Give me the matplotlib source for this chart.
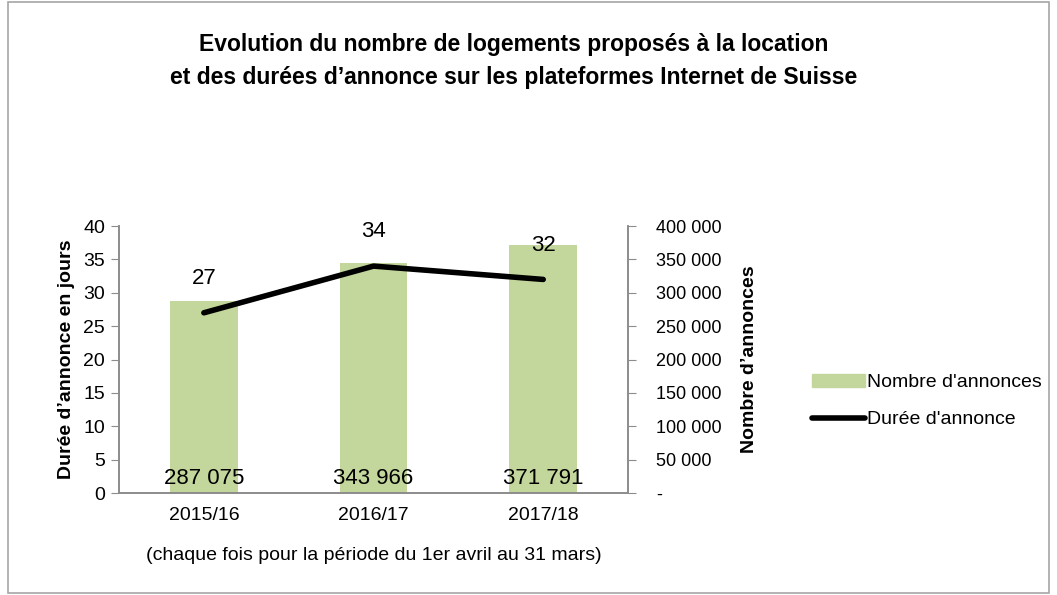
import matplotlib.pyplot as plt
from matplotlib.patches import Rectangle
from matplotlib.lines import Line2D
from matplotlib.ticker import FuncFormatter

plt.rcParams['font.family'] = ['Liberation Sans', 'DejaVu Sans']

# Données
periodes = ['2015/16', '2016/17', '2017/18']
nb_annonces = [287075, 343966, 371791]
duree_jours = [27, 34, 32]

bar_color = '#C3D69B'
axis_color = '#8C8C8C'

fig = plt.figure(figsize=(10.57, 5.95), dpi=100)
ax = fig.add_axes([0.1126, 0.1714, 0.4816, 0.4487])
ax2 = ax.twinx()

x = list(range(len(periodes)))

# barres (axe de droite)
ax.bar(x, nb_annonces, width=0.4, color=bar_color, zorder=2)
ax.set_ylim(0, 400000)
ax.set_xlim(-0.5, len(periodes) - 0.5)
ax.yaxis.tick_right()
ax.yaxis.set_label_position('right')
ax.set_yticks(range(0, 400001, 50000))
ax.yaxis.set_major_formatter(FuncFormatter(
    lambda v, p: '-' if v == 0 else f'{int(v):,}'.replace(',', ' ')))
ax.set_ylabel("Nombre d’annonces", fontsize=14, fontweight='bold', labelpad=14)

for xi, v in zip(x, nb_annonces):
    ax.annotate(f'{v:,}'.replace(',', ' '), (xi, 0), xytext=(0, 3),
                textcoords='offset points', ha='center', va='bottom', fontsize=16)

# ligne (axe de gauche)
ax2.plot(x, duree_jours, color='black', linewidth=4, solid_capstyle='round', zorder=3)
ax2.set_ylim(0, 40)
ax2.yaxis.tick_left()
ax2.yaxis.set_label_position('left')
ax2.set_yticks(range(0, 41, 5))
ax2.set_ylabel("Durée d’annonce en jours", fontsize=14, fontweight='bold', labelpad=6)

for xi, v in zip(x, duree_jours):
    ax2.annotate(str(v), (xi, v), xytext=(0, 17), textcoords='offset points',
                 ha='center', va='bottom', fontsize=16)

# axes et graduations
ax.set_xticks([-0.5, 0.5, 1.5, 2.5], minor=False)
ax.set_xticklabels([])
ax.set_xticks(x, minor=True)
ax.set_xticklabels(periodes, minor=True, fontsize=14)
ax.tick_params(axis='x', which='minor', length=0, pad=10)
ax.tick_params(axis='x', which='major', length=6, color=axis_color, direction='out')
ax.tick_params(axis='y', length=6, color=axis_color, labelsize=13, pad=14)
ax2.tick_params(axis='y', length=6, color=axis_color, labelsize=14, pad=4)
ax2.set_xticks([])

for a in (ax, ax2):
    a.spines['top'].set_visible(False)
    for s in ('left', 'right', 'bottom'):
        a.spines[s].set_color(axis_color)
        a.spines[s].set_linewidth(1.2)

ax.text(0.5, -0.235, '(chaque fois pour la période du 1er avril au 31 mars)',
        transform=ax.transAxes, ha='center', va='center', fontsize=14)

fig.suptitle('Evolution du nombre de logements proposés à la location\n'
             'et des durées d’annonce sur les plateformes Internet de Suisse',
             x=0.486, y=0.945, fontsize=16.5, fontweight='bold', linespacing=1.55)

handles = [Rectangle((0, 0), 1, 1, color=bar_color),
           Line2D([0], [0], color='black', linewidth=4, solid_capstyle='round')]
fig.legend(handles, ["Nombre d'annonces", "Durée d'annonce"], loc='center left',
           bbox_to_anchor=(0.752, 0.326), frameon=False, fontsize=14,
           handlelength=2.7, handletextpad=0.1, labelspacing=1.0)

# cadre
fig.patches.append(Rectangle((0.008, 0.003), 0.984, 0.994, transform=fig.transFigure,
                             fill=False, edgecolor='#A6A6A6', linewidth=1.2))

fig.savefig('out.png', dpi=100)
